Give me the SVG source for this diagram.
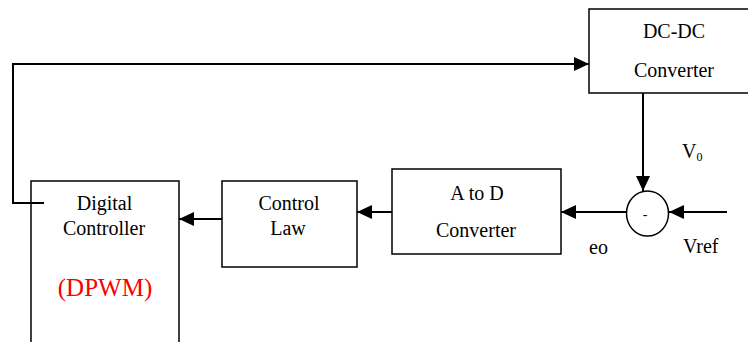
<svg xmlns="http://www.w3.org/2000/svg" width="748" height="342" viewBox="0 0 748 342">
<style>
.box{fill:#fff;stroke:#000;stroke-width:1.5}
.ln{fill:none;stroke:#000;stroke-width:2}
text{font-family:"Liberation Serif","Times New Roman",serif;font-size:20px;fill:#000;text-anchor:middle}
.red{fill:#ff0000;font-size:25px}
.lab{text-anchor:start}
</style>
<defs>
<marker id="ah" markerWidth="15" markerHeight="14" refX="15" refY="7" orient="auto" markerUnits="userSpaceOnUse">
<path d="M0,0 L15,7 L0,14 Z" fill="#000"/>
</marker>
</defs>
<rect width="748" height="342" fill="#fff"/>
<g id="connectors">
<path class="ln" d="M44,203 H13 V64 H589" marker-end="url(#ah)"/>
<path class="ln" d="M643,93 V191" marker-end="url(#ah)"/>
<path class="ln" d="M727,212 H669" marker-end="url(#ah)"/>
<path class="ln" d="M627,212 H561" marker-end="url(#ah)"/>
<path class="ln" d="M392,212 H357" marker-end="url(#ah)"/>
<path class="ln" d="M222,219 H179" marker-end="url(#ah)"/>
</g>
<g id="dcdc">
<rect class="box" x="589" y="9" width="162" height="84"/>
<text x="674" y="38">DC-DC</text>
<text x="674" y="77">Converter</text>
</g>
<g id="sum">
<ellipse cx="647.5" cy="213.5" rx="21" ry="22.5" fill="#fff" stroke="#000" stroke-width="1.5"/>
<text x="645" y="219" style="font-size:14px">-</text>
</g>
<g id="atod">
<rect class="box" x="392" y="169" width="169" height="85"/>
<text x="477" y="200">A to D</text>
<text x="476" y="237">Converter</text>
</g>
<g id="controllaw">
<rect class="box" x="222" y="181" width="135" height="86"/>
<text x="289" y="210">Control</text>
<text x="288" y="235">Law</text>
</g>
<g id="digital">
<rect class="box" x="31" y="181" width="148" height="170"/>
<text x="104.5" y="210">Digital</text>
<text x="104" y="235">Controller</text>
<text class="red" x="105" y="296">(DPWM)</text>
</g>
<g id="labels">
<text class="lab" x="682" y="158">V<tspan dy="3" style="font-size:12px">0</tspan></text>
<text class="lab" x="589" y="254">eo</text>
<text class="lab" x="683" y="253">Vref</text>
</g>
<path class="ln" d="M44,203 H31"/>
</svg>
